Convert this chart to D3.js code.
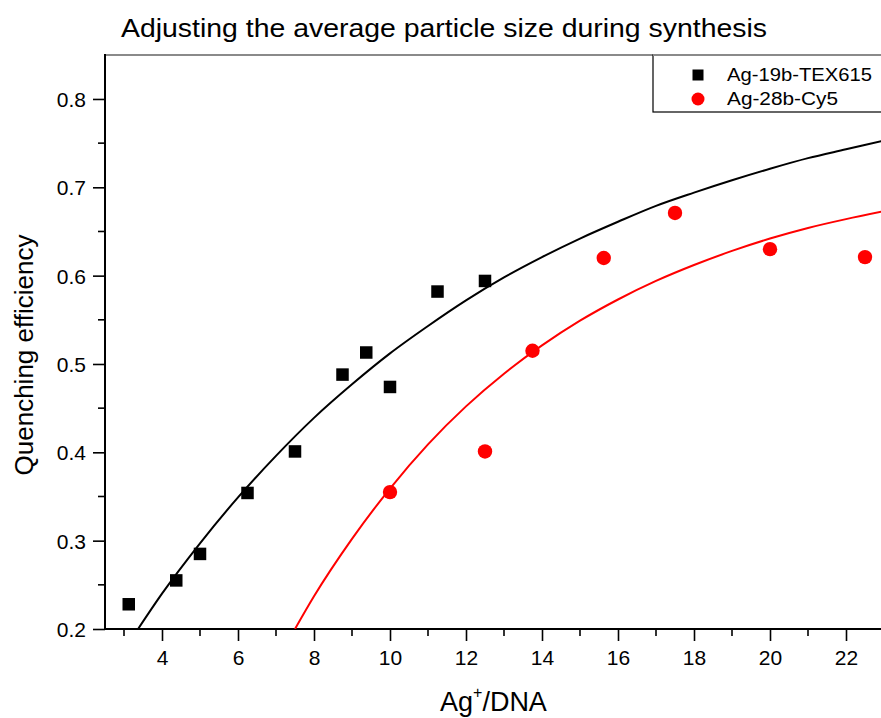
<!DOCTYPE html>
<html><head><meta charset="utf-8">
<script src="https://cdn.jsdelivr.net/npm/d3@7"></script>
<style>
html,body{margin:0;padding:0;background:#fff;}
svg{display:block;font-family:"Liberation Sans",Arial,sans-serif;}
</style></head>
<body>
<script>
// ---- data ----
const seriesNames = ["Ag-19b-TEX615", "Ag-28b-Cy5"];
const blackX = [3.125, 4.375, 5.0, 6.25, 7.5, 8.75, 9.375, 10.0, 11.25, 12.5];
const blackY = [0.228, 0.255, 0.285, 0.354, 0.401, 0.488, 0.513, 0.474, 0.582, 0.594];
const redX = [10.0, 12.5, 13.75, 15.625, 17.5, 20.0, 22.5];
const redY = [0.355, 0.401, 0.515, 0.620, 0.671, 0.630, 0.621];
// fitted curves
const blackFitX = [3.37, 4, 5, 6, 7, 8, 9, 10, 11, 12, 13, 14, 15, 16, 17, 18, 19, 20, 21, 22, 23];
const blackFitY = [0.200, 0.240, 0.297, 0.349, 0.396, 0.439, 0.477, 0.512, 0.543, 0.572, 0.598, 0.621, 0.642, 0.661, 0.679, 0.694, 0.708, 0.721, 0.733, 0.743, 0.753];
const redFitX = [7.5, 8, 9, 10, 11, 12, 13, 14, 15, 16, 17, 18, 19, 20, 21, 22, 23];
const redFitY = [0.200, 0.237, 0.302, 0.359, 0.409, 0.452, 0.489, 0.521, 0.549, 0.573, 0.594, 0.612, 0.628, 0.642, 0.654, 0.664, 0.673];
const xTicks = [4, 6, 8, 10, 12, 14, 16, 18, 20, 22];
const xMinor = [3, 5, 7, 9, 11, 13, 15, 17, 19, 21, 23];
const yTicks = [0.2, 0.3, 0.4, 0.5, 0.6, 0.7, 0.8];
const yMinor = [0.25, 0.35, 0.45, 0.55, 0.65, 0.75];
const title = "Adjusting the average particle size during synthesis";
const yTitle = "Quenching efficiency";

const W = 881, H = 718;
const svg = d3.select("body").append("svg").attr("width", W).attr("height", H);

const x = d3.scaleLinear().domain([2.5, 23]).range([105, 884]);
const y = d3.scaleLinear().domain([0.2, 0.85]).range([629, 54.8]);

svg.append("defs").append("clipPath").attr("id", "clip")
  .append("rect").attr("x", 105).attr("y", 55).attr("width", 800).attr("height", 574);

// title
svg.append("text").attr("x", 121).attr("y", 37)
  .attr("font-size", 26).attr("textLength", 646).attr("lengthAdjust", "spacingAndGlyphs")
  .attr("fill", "#000").text(title);

// axes
const xAxis = d3.axisBottom(x).tickValues(xTicks).tickSize(12).tickPadding(6).tickFormat(d3.format("d"));
const gx = svg.append("g").attr("transform", "translate(0,629)").call(xAxis);
gx.select(".domain").remove();
gx.selectAll(".tick line").attr("stroke", "#000").attr("stroke-width", 1.6);
gx.selectAll(".tick text").attr("font-size", 21).attr("fill", "#000")
  .attr("font-family", "Liberation Sans, Arial, sans-serif").attr("dy", "0.72em").attr("y", 20.5);
svg.append("g").selectAll("line").data(xMinor).join("line")
  .attr("x1", d => x(d)).attr("x2", d => x(d)).attr("y1", 629).attr("y2", 636)
  .attr("stroke", "#000").attr("stroke-width", 1.6);

const yAxis = d3.axisLeft(y).tickValues(yTicks).tickSize(12).tickPadding(7).tickFormat(d3.format(".1f"));
const gy = svg.append("g").attr("transform", "translate(105,0)").call(yAxis);
gy.select(".domain").remove();
gy.selectAll(".tick line").attr("stroke", "#000").attr("stroke-width", 1.6);
gy.selectAll(".tick text").attr("font-size", 21).attr("fill", "#000")
  .attr("font-family", "Liberation Sans, Arial, sans-serif").attr("dy", "0.36em");
svg.append("g").selectAll("line").data(yMinor).join("line")
  .attr("x1", 98).attr("x2", 105).attr("y1", d => y(d)).attr("y2", d => y(d))
  .attr("stroke", "#000").attr("stroke-width", 1.6);

// frame lines
svg.append("line").attr("x1", 105).attr("x2", 881).attr("y1", 55).attr("y2", 55)
  .attr("stroke", "#8a8a8a").attr("stroke-width", 2);
svg.append("line").attr("x1", 105).attr("x2", 105).attr("y1", 54).attr("y2", 630)
  .attr("stroke", "#000").attr("stroke-width", 2);
svg.append("line").attr("x1", 104).attr("x2", 881).attr("y1", 629).attr("y2", 629)
  .attr("stroke", "#000").attr("stroke-width", 2);

// axis titles
svg.append("text").attr("transform", "translate(33,355) rotate(-90)")
  .attr("text-anchor", "middle").attr("font-size", 26).attr("fill", "#000").text(yTitle);
const xt = svg.append("text").attr("x", 440).attr("y", 711).attr("font-size", 27).attr("fill", "#000");
xt.append("tspan").text("Ag");
xt.append("tspan").attr("font-size", 16).attr("dy", -13).text("+");
xt.append("tspan").attr("dy", 13).text("/DNA");

// fit curves
const plot = svg.append("g").attr("clip-path", "url(#clip)");
const line = d3.line().x(d => x(d[0])).y(d => y(d[1])).curve(d3.curveMonotoneX);
plot.append("path").datum(d3.zip(blackFitX, blackFitY)).attr("d", line)
  .attr("fill", "none").attr("stroke", "#000").attr("stroke-width", 2);
plot.append("path").datum(d3.zip(redFitX, redFitY)).attr("d", line)
  .attr("fill", "none").attr("stroke", "#ff0000").attr("stroke-width", 2);

// points
const sq = 12.5;
plot.append("g").selectAll("rect").data(d3.zip(blackX, blackY)).join("rect")
  .attr("x", d => x(d[0]) - sq / 2).attr("y", d => y(d[1]) - sq / 2)
  .attr("width", sq).attr("height", sq).attr("fill", "#000");
plot.append("g").selectAll("circle").data(d3.zip(redX, redY)).join("circle")
  .attr("cx", d => x(d[0])).attr("cy", d => y(d[1])).attr("r", 7.2).attr("fill", "#ff0000");

// legend
const lg = svg.append("g");
lg.append("rect").attr("x", 653).attr("y", 55).attr("width", 240).attr("height", 57)
  .attr("fill", "#fff").attr("stroke", "#000").attr("stroke-width", 1.2);
lg.append("line").attr("x1", 653).attr("x2", 881).attr("y1", 55).attr("y2", 55)
  .attr("stroke", "#8a8a8a").attr("stroke-width", 2);
lg.append("rect").attr("x", 698 - 5.5).attr("y", 75 - 5.5).attr("width", 11).attr("height", 11).attr("fill", "#000");
lg.append("circle").attr("cx", 698).attr("cy", 99).attr("r", 6.5).attr("fill", "#ff0000");
lg.append("text").attr("x", 727).attr("y", 81).attr("font-size", 18)
  .attr("textLength", 145).attr("lengthAdjust", "spacingAndGlyphs").attr("fill", "#000").text(seriesNames[0]);
lg.append("text").attr("x", 727).attr("y", 105).attr("font-size", 18)
  .attr("textLength", 111).attr("lengthAdjust", "spacingAndGlyphs").attr("fill", "#000").text(seriesNames[1]);
</script>
</body></html>
